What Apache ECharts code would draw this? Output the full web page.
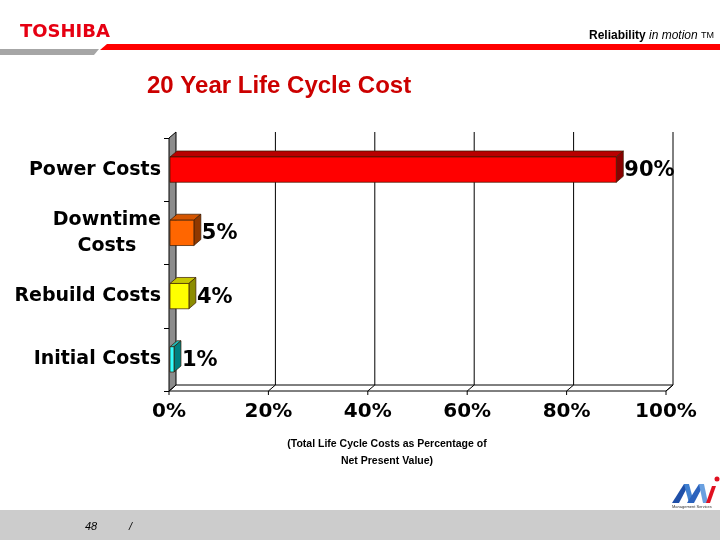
<!DOCTYPE html>
<html>
<head>
<meta charset="utf-8">
<script src="https://cdn.jsdelivr.net/npm/echarts@6/dist/echarts.min.js"></script>
<style>html,body{margin:0;padding:0;background:#fff}#c{width:720px;height:540px}</style>
</head>
<body>
<div id="c"></div>
<script>
// ---- data ----
const categories = ['Power Costs', 'Downtime\nCosts', 'Rebuild Costs', 'Initial Costs'];
const values = [90, 5, 4, 1];
const tickValues = [0, 20, 40, 60, 80, 100];
const axisNameLines = ['(Total Life Cycle Costs as Percentage of', 'Net Present Value)'];
const titleText = '20 Year Life Cycle Cost';

// ---- styles ----
const frontColors = ['#ff0000', '#ff6600', '#ffff00', '#33ffff'];
const topColors = ['#b80000', '#d45500', '#c8c800', '#22b8b8'];
const sideColors = ['#8a0000', '#8f3800', '#8c8c00', '#007f7f'];
const DX = 7, DY = -6;

const chart = echarts.init(document.getElementById('c'), null, {renderer: 'canvas'});

const option = {
  backgroundColor: '#ffffff',
  animation: false,
  title: {
    text: titleText,
    left: 142, top: 69,
    textStyle: {fontFamily: 'Liberation Sans', fontWeight: 'bold', fontSize: 24, color: '#cc0000'}
  },
  grid: {left: 169, right: 54, top: 138, bottom: 149},
  xAxis: {
    type: 'value', min: 0, max: 100, interval: 20,
    axisLine: {show: false}, axisTick: {show: false}, splitLine: {show: false},
    axisLabel: {
      formatter: '{value}%', margin: 11,
      fontFamily: 'DejaVu Sans', fontWeight: 'bold', fontSize: 20, color: '#000'
    }
  },
  yAxis: {
    type: 'category', data: categories, inverse: true,
    axisLine: {show: false},
    axisTick: {show: true, length: 5, lineStyle: {color: '#000'}},
    axisLabel: {
      margin: 8,
      formatter: function (v) {
        return v.split('\n').map(s => '{a|' + s + '}').join('\n');
      },
      rich: {a: {align: 'center', fontFamily: 'DejaVu Sans', fontWeight: 'bold', fontSize: 19, lineHeight: 26, color: '#000'}}
    }
  },
  graphic: [
    // header
    {type: 'text', left: 20, top: 23, style: {text: 'TOSHIBA', fontFamily: 'DejaVu Sans', fontWeight: 'bold', fontSize: 18, fill: '#e60012'}},
    {type: 'polygon', shape: {points: [[100, 50], [107, 44], [720, 44], [720, 50]]}, style: {fill: '#ff0000'}},
    {type: 'polygon', shape: {points: [[0, 49], [99, 49], [94, 55], [0, 55]]}, style: {fill: '#a6a6a6'}},
    {type: 'text', right: 6, top: 30, style: {
      text: '{b|Reliability} {i|in motion} {s|TM}',
      rich: {
        b: {fontFamily: 'Liberation Sans', fontWeight: 'bold', fontSize: 12, fill: '#000'},
        i: {fontFamily: 'Liberation Sans', fontStyle: 'italic', fontSize: 12, fill: '#000'},
        s: {fontFamily: 'Liberation Sans', fontSize: 9, fill: '#000'}
      }
    }},
    // axis name
    {type: 'text', x: 387, y: 436, style: {
      text: axisNameLines.join('\n'), align: 'center', verticalAlign: 'top', lineHeight: 17,
      fontFamily: 'Liberation Sans', fontWeight: 'bold', fontSize: 10.5, fill: '#000'
    }},
    // footer
    {type: 'rect', shape: {x: 0, y: 510, width: 720, height: 30}, style: {fill: '#cccccc'}},
    {type: 'text', left: 85, top: 521, style: {text: '48', fontFamily: 'Liberation Sans', fontStyle: 'italic', fontSize: 11, fill: '#000'}},
    {type: 'text', left: 129, top: 521, style: {text: '/', fontFamily: 'Liberation Sans', fontStyle: 'italic', fontSize: 11, fill: '#000'}},
    // logo
    {type: 'polygon', shape: {points: [[672, 503], [684, 484], [689, 484], [679, 503]]}, style: {fill: '#1f4fa8'}},
    {type: 'polygon', shape: {points: [[684, 484], [689, 484], [694, 503], [689, 503]]}, style: {fill: '#3f7fd0'}},
    {type: 'polygon', shape: {points: [[687, 503], [699, 484], [704, 484], [694, 503]]}, style: {fill: '#2b62bd'}},
    {type: 'polygon', shape: {points: [[699, 484], [704, 484], [708, 503], [703, 503]]}, style: {fill: '#6aa0e0'}},
    {type: 'polygon', shape: {points: [[706, 503], [712, 486], [716, 486], [710, 503]]}, style: {fill: '#e01020'}},
    {type: 'circle', shape: {cx: 717, cy: 479, r: 2.5}, style: {fill: '#e01020'}},
    {type: 'text', left: 672, top: 505, style: {text: 'Management Services', fontFamily: 'Liberation Sans', fontSize: 4, fill: '#333'}}
  ],
  series: [
    {
      type: 'custom', z: 1, silent: true,
      data: [[0, 0]],
      renderItem: function (params, api) {
        const cs = params.coordSys;
        const x = cs.x, y = cs.y, w = cs.width, h = cs.height;
        const yb = y + h;
        const children = [];
        // floor
        children.push({type: 'polygon', shape: {points: [[x, yb], [x + DX, yb + DY], [x + w + DX, yb + DY], [x + w, yb]]},
          style: {fill: '#ffffff', stroke: '#000', lineWidth: 1}});
        tickValues.forEach(function (v) {
          const xv = api.coord([v, 0])[0];
          if (v !== 0) {
            children.push({type: 'line', shape: {x1: xv + DX, y1: y + DY, x2: xv + DX, y2: yb + DY}, style: {stroke: '#000', lineWidth: 1}});
          }
          children.push({type: 'line', shape: {x1: xv + DX, y1: yb + DY, x2: xv, y2: yb}, style: {stroke: '#000', lineWidth: 1}});
          children.push({type: 'line', shape: {x1: xv, y1: yb, x2: xv, y2: yb + 4}, style: {stroke: '#000', lineWidth: 1}});
        });
        // wall
        children.push({type: 'polygon', shape: {points: [[x, y], [x + DX, y + DY], [x + DX, yb + DY], [x, yb]]},
          style: {fill: '#8c8c8c', stroke: '#000', lineWidth: 1}});
        return {type: 'group', children: children};
      }
    },
    {
      type: 'custom', z: 2,
      data: values.map(function (v, i) { return [v, i]; }),
      renderItem: function (params, api) {
        const v = api.value(0), cat = api.value(1);
        const i = params.dataIndex;
        const p0 = api.coord([0, cat]);
        const p1 = api.coord([v, cat]);
        const bh = api.size([0, 1])[1] * 0.4;
        const x0 = p0[0] + 1, x1 = p1[0];
        const yT = p0[1] - bh / 2, yB = p0[1] + bh / 2;
        const stroke = '#3a1a00';
        return {type: 'group', children: [
          {type: 'polygon', shape: {points: [[x0, yT], [x0 + DX, yT + DY], [x1 + DX, yT + DY], [x1, yT]]},
            style: {fill: topColors[i], stroke: stroke, lineWidth: 0.7}},
          {type: 'polygon', shape: {points: [[x1, yT], [x1 + DX, yT + DY], [x1 + DX, yB + DY], [x1, yB]]},
            style: {fill: sideColors[i], stroke: stroke, lineWidth: 0.7}},
          {type: 'rect', shape: {x: x0, y: yT, width: x1 - x0, height: bh},
            style: {fill: frontColors[i], stroke: stroke, lineWidth: 0.7}},
          {type: 'text', x: x1 + DX + 1, y: p0[1] + 1,
            style: {text: v + '%', fontFamily: 'DejaVu Sans', fontWeight: 'bold', fontSize: 21, fill: '#000',
              align: 'left', verticalAlign: 'middle'}}
        ]};
      }
    }
  ]
};
chart.setOption(option);
</script>
</body>
</html>
